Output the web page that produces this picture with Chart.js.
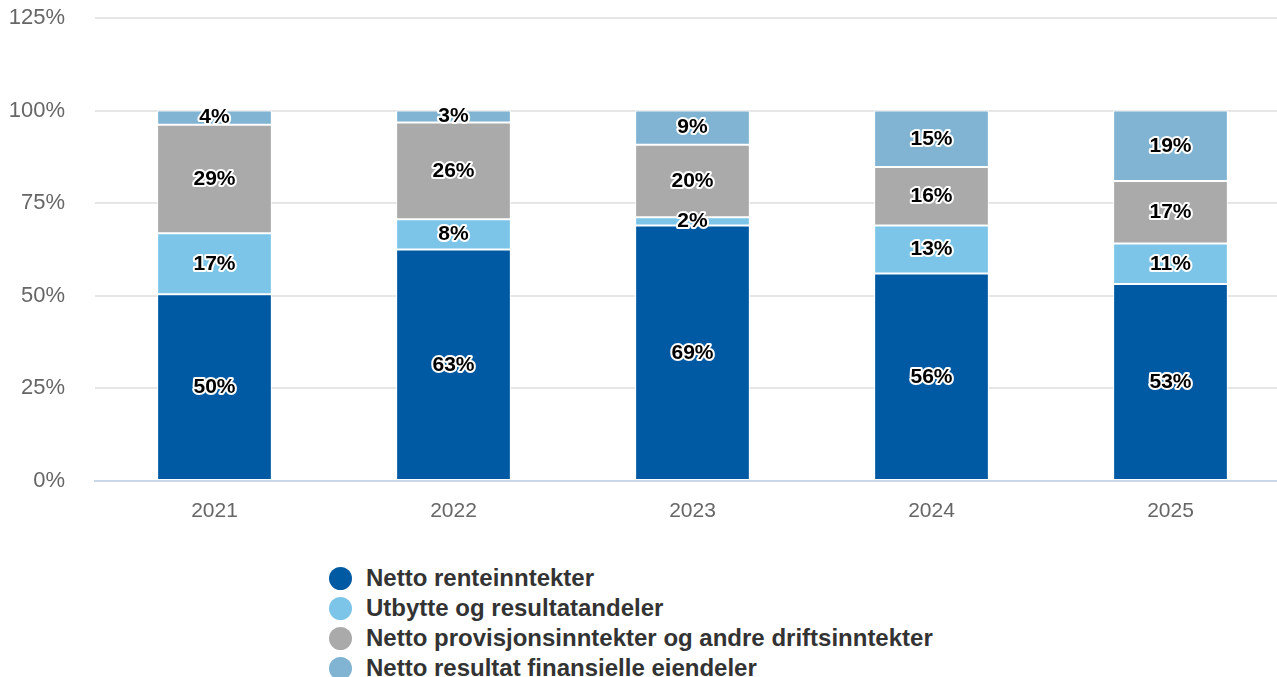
<!DOCTYPE html>
<html>
<head>
<meta charset="utf-8">
<script src="https://cdn.jsdelivr.net/npm/chart.js@4.4.1/dist/chart.umd.min.js"></script>
<style>
  html, body { margin: 0; padding: 0; background: #fff; overflow: hidden; }
  #wrap { position: relative; width: 1290px; height: 545px; }
  #legend { position: absolute; left: 329px; top: 563px; font-family: "Liberation Sans", Arial, sans-serif;
            font-weight: bold; font-size: 24px; color: #333; }
  #legend div { height: 30px; line-height: 30px; white-space: nowrap; }
  #legend span { display: inline-block; width: 23px; height: 23px; border-radius: 50%; vertical-align: -4px; margin-right: 14px; }
</style>
</head>
<body>
<div id="wrap"><canvas id="myChart"></canvas></div>
<div id="legend"></div>
<script>
var years = ["2021", "2022", "2023", "2024", "2025"];
var seriesNames = ["Netto renteinntekter", "Utbytte og resultatandeler",
  "Netto provisjonsinntekter og andre driftsinntekter", "Netto resultat finansielle eiendeler"];
var renteinntekter = [50.4, 62.5, 69.0, 56.0, 53.2];
var utbytte = [16.5, 8.2, 2.2, 13.0, 10.9];
var provisjon = [29.3, 26.1, 19.6, 15.8, 16.9];
var finansielle = [3.8, 3.2, 9.2, 15.2, 19.0];
var colors = ["rgb(0,90,163)", "rgb(125,197,232)", "rgb(170,170,170)", "rgb(128,180,210)"];

var values = [renteinntekter, utbytte, provisjon, finansielle];

var labelPlugin = {
  id: 'segLabels',
  afterDatasetsDraw: function (chart) {
    var ctx = chart.ctx;
    ctx.save();
    ctx.font = 'bold 21px "Liberation Sans", Arial, sans-serif';
    ctx.textAlign = 'center';
    ctx.textBaseline = 'middle';
    ctx.lineJoin = 'round';
    chart.data.datasets.forEach(function (ds, i) {
      chart.getDatasetMeta(i).data.forEach(function (bar, j) {
        var txt = Math.round(ds.data[j]) + '%';
        var y = (bar.y + bar.base) / 2;
        ctx.lineWidth = 4;
        ctx.strokeStyle = '#fff';
        ctx.strokeText(txt, bar.x, y);
        ctx.fillStyle = '#000';
        ctx.fillText(txt, bar.x, y);
      });
    });
    ctx.restore();
  }
};

var ctx = document.getElementById('myChart').getContext('2d');
var myChart = new Chart(ctx, {
  type: 'bar',
  data: {
    labels: years,
    datasets: values.map(function (v, i) {
      return {
        label: seriesNames[i],
        data: v,
        backgroundColor: colors[i],
        borderColor: '#fff',
        borderWidth: 1,
        borderSkipped: false,
        barPercentage: 0.48,
        categoryPercentage: 1
      };
    })
  },
  options: {
    responsive: true,
    maintainAspectRatio: false,
    animation: false,
    layout: { padding: { top: 18, right: 0, left: 0, bottom: 0 } },
    plugins: { legend: { display: false }, tooltip: { enabled: false } },
    scales: {
      x: {
        stacked: true,
        grid: { display: false, drawTicks: false },
        border: { color: '#ccd6eb', width: 2 },
        ticks: { color: '#666', font: { family: '"Liberation Sans", Arial, sans-serif', size: 21 }, padding: 18 },
        afterFit: function (s) { s.height = 64; }
      },
      y: {
        stacked: true,
        min: 0,
        max: 125,
        ticks: {
          stepSize: 25,
          padding: 30,
          color: '#666',
          font: { family: '"Liberation Sans", Arial, sans-serif', size: 22 },
          callback: function (v) { return v + '%'; }
        },
        grid: { color: '#e6e6e6', lineWidth: 2, drawTicks: false },
        border: { display: false },
        afterFit: function (s) { s.width = 95; s.paddingTop = 0; s.paddingBottom = 0; }
      }
    }
  },
  plugins: [labelPlugin]
});

document.getElementById('legend').innerHTML = seriesNames.map(function (n, i) {
  return '<div><span style="background:' + colors[i] + '"></span>' + n + '</div>';
}).join('');
</script>
</body>
</html>
